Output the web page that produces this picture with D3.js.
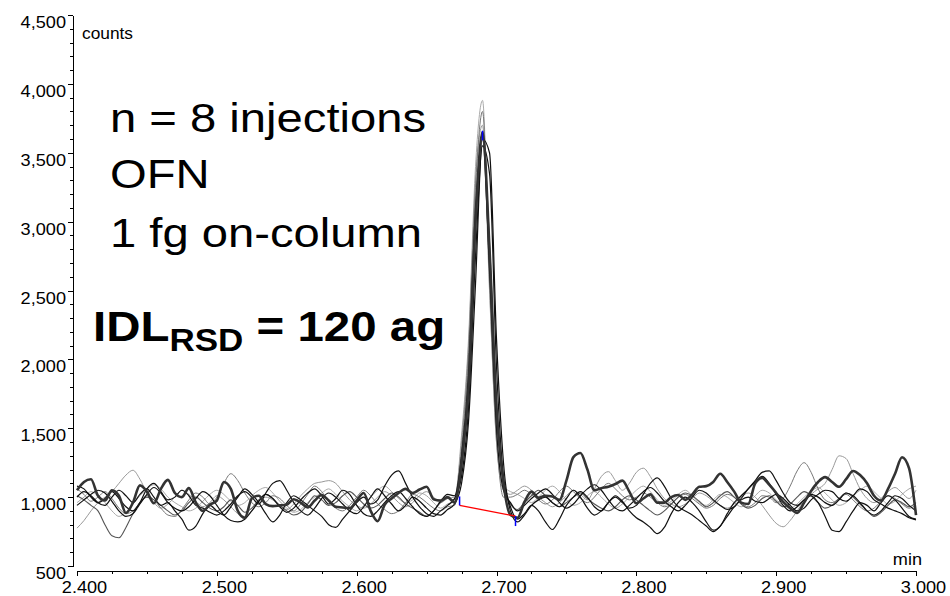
<!DOCTYPE html>
<html>
<head>
<meta charset="utf-8">
<script src="https://cdn.jsdelivr.net/npm/d3@7"></script>
<style>
  body { margin: 0; background: #fff; }
  svg { display: block; font-family: Arial, "Liberation Sans", sans-serif; }
  .axis path, .axis line { stroke: #000; stroke-width: 1; shape-rendering: crispEdges; }
  .trace { fill: none; stroke-linejoin: round; }
</style>
</head>
<body>
<div id="chart"></div>
<script>
// sampling grid of the chromatogram, minutes
var T_START = 2.400, T_STEP = 0.005, N_POINTS = 121;
var times = d3.range(N_POINTS).map(function(i) { return +(T_START + i * T_STEP).toFixed(3); });

// counts for the 8 injections
var inj1 = [1050,1110,1130,1010,975,1050,1010,885,960,1085,
  1040,955,1060,1125,1030,1000,1065,960,900,945,
  975,1110,1060,900,850,990,1010,950,935,940,
  945,985,960,925,975,1015,975,930,925,920,
  975,1030,900,825,945,990,1030,1060,1030,1055,
  1075,985,975,1000,960,1250,1800,3000,3650,2800,
  1650,1100,870,850,965,1040,995,1010,1005,980,
  1120,1290,1320,1200,1050,1065,1075,1095,1120,1040,
  955,990,1020,960,960,1000,1015,980,1020,1075,
  1080,1110,1170,1110,1040,960,950,1100,1140,1090,
  1030,965,920,885,960,1045,1110,1145,1110,1075,
  1130,1190,1160,1100,1010,975,1060,1170,1290,1210,
  870];
var inj2 = [1000,1040,1010,960,940,1000,1050,1010,960,1020,
  1060,1000,940,960,900,840,760,790,880,940,
  900,870,930,1000,1060,1020,960,880,820,870,
  960,1010,980,940,900,860,800,780,840,900,
  960,1000,950,980,1080,1160,1190,1100,1000,930,
  880,860,900,940,990,1150,1650,2750,3550,3350,
  1950,1150,930,840,880,940,900,820,765,840,
  940,1000,1040,1000,930,900,960,1010,970,900,
  850,820,780,735,780,880,960,1000,960,900,
  820,760,790,880,960,1010,1060,1120,1180,1190,
  1120,1030,960,940,980,1010,960,860,760,750,
  820,900,960,940,900,960,1010,980,920,860,
  840];
var inj3 = [1080,1060,1000,960,990,1040,990,930,900,960,
  1060,1100,1040,980,1000,1050,1010,940,920,890,
  870,900,950,1010,1040,1000,950,1030,1100,1120,
  1050,960,900,870,920,990,1030,1000,950,900,
  880,930,1000,1060,1010,950,900,940,1000,970,
  920,880,870,910,950,1100,1550,2550,3600,3500,
  2150,1250,900,820,870,940,980,1000,960,930,
  990,1050,1000,920,870,900,960,1000,960,920,
  940,1020,1100,1140,1080,990,930,900,870,830,
  790,750,790,860,930,980,1000,970,960,990,
  1020,990,940,900,920,980,1020,1050,1040,990,
  970,1010,1060,1040,980,950,920,900,880,850,
  835];
var inj4 = [940,980,1020,1050,1030,970,900,860,880,950,
  1020,1070,1030,960,920,900,930,990,1040,1010,
  940,870,830,820,840,900,970,1020,990,930,
  890,920,980,1030,1060,1010,950,990,1050,1020,
  940,880,860,900,960,1010,1040,990,930,880,
  860,900,970,1020,1010,1300,1900,3100,3600,2650,
  1500,1050,960,900,940,990,1030,1060,1020,960,
  920,950,1010,1060,1090,1050,980,920,900,940,
  990,1040,1070,1030,970,930,900,940,1000,1050,
  1030,980,940,910,930,990,1060,1110,1150,1100,
  1020,940,900,930,980,1020,1000,960,940,980,
  1030,1010,960,900,870,900,960,1010,990,940,
  900];
var inj5 = [1010,980,940,900,800,720,705,780,880,960,
  1000,980,940,900,870,900,960,1000,960,920,
  900,930,980,940,890,920,980,1020,990,940,
  900,870,890,950,1010,980,940,960,1010,1040,
  1000,950,920,940,990,1030,1000,950,920,890,
  860,900,960,990,980,1200,1800,2950,3650,2850,
  1700,1120,950,910,960,1010,1050,1010,960,930,
  960,1000,1030,990,950,920,900,930,980,1010,
  980,940,900,870,900,950,1000,1030,1010,970,
  930,960,1010,1040,1000,950,920,940,990,1010,
  970,930,950,1000,1040,1010,960,920,940,990,
  1030,1000,950,900,860,890,940,980,960,930,
  960];
var inj6 = [1060,1020,970,1000,1040,990,920,880,900,960,
  1010,980,920,870,860,910,980,1030,1000,950,
  1000,1100,1170,1120,1030,960,930,960,1010,990,
  940,900,950,1020,1080,1040,970,920,900,940,
  1000,1050,1010,950,910,880,900,960,1020,1000,
  960,920,900,930,940,1350,2050,3250,3800,2600,
  1450,1000,1000,1020,1050,1020,980,950,980,1040,
  1080,1040,990,960,1000,1060,1100,1060,1010,980,
  1000,1030,1000,960,930,950,1000,1020,990,950,
  920,940,990,1020,1000,960,930,960,1010,1000,
  960,990,1080,1190,1250,1180,1060,980,960,990,
  1020,980,930,900,920,970,1010,990,950,920,
  940];
var inj7 = [775,830,900,960,1000,1040,1100,1160,1195,1130,
  1030,960,920,950,1000,1050,1020,970,930,960,
  1010,980,930,880,860,900,960,1000,980,940,
  910,950,1010,1060,1100,1110,1120,1100,1040,980,
  940,920,950,1000,1040,1010,960,930,960,1010,
  1040,1000,960,990,1000,1400,2100,3300,3700,2500,
  1400,1050,1020,1050,1080,1050,1000,960,930,960,
  1010,1050,1020,980,1060,1150,1185,1120,1050,1100,
  1180,1210,1150,1060,990,950,930,950,990,1030,
  1010,970,940,920,950,1000,1030,1000,940,870,
  810,785,830,900,970,1020,1060,1100,1200,1300,
  1280,1170,1060,990,960,990,1040,1070,1030,990,
  1050];
var inj8 = [960,1000,1040,1010,960,900,860,890,950,1010,
  1060,1090,1060,1000,960,930,900,920,970,1020,
  1050,1020,970,940,960,1010,1050,1070,1030,970,
  920,890,910,960,1000,1030,1060,1020,970,930,
  900,940,1000,1050,1080,1040,990,960,980,1030,
  1010,960,920,950,970,1450,2150,3400,3880,2550,
  1400,1080,1040,1020,990,960,1000,1050,1080,1040,
  980,940,960,1010,1040,1000,950,920,950,1000,
  1050,1080,1040,980,940,970,1020,1050,1010,960,
  940,980,1020,1000,960,930,960,1010,1050,1030,
  980,940,920,950,1000,1040,1070,1030,980,940,
  960,1010,1050,1080,1040,990,950,970,1020,1060,
  1080];

// drawn back to front: light greys first, the heavy trace last
var traces = [inj8, inj7, inj6, inj5, inj4, inj3, inj2, inj1];
var traceColors = ["#aaaaaa", "#999999", "#777777", "#555555", "#111111", "#111111", "#111111", "#333333"];
var traceWidths = [1, 1, 1, 1.1, 1.2, 1.2, 1.2, 2.6];

// peak integration: baseline (red) and delimiters (blue)
var baseTimes = [2.6736, 2.7136];
var baseCounts = [940, 862];
var markTimes = [2.6736, 2.6900, 2.7136];
var markLow = [940, 3590, 790];
var markHigh = [1005, 3660, 862];

var xTicks = [2.4, 2.5, 2.6, 2.7, 2.8, 2.9, 3.0];
var yTicks = [500, 1000, 1500, 2000, 2500, 3000, 3500, 4000, 4500];

var notes = ["n = 8 injections", "OFN", "1 fg on-column"];

/**** DRAW ****/

var width = 950, height = 596;
var svg = d3.select("#chart").append("svg")
  .attr("width", width)
  .attr("height", height);

var x = d3.scaleLinear().domain([2.4, 3.0]).range([77, 916]);
var y = d3.scaleLinear().domain([500, 4500]).range([566, 15]);

// y axis, minor ticks then major ticks with labels
svg.append("g").attr("class", "axis")
  .attr("transform", "translate(73,0)")
  .call(d3.axisLeft(y).tickValues(d3.range(500, 4501, 100)).tickSize(3).tickSizeOuter(0).tickFormat(""));
var yAxis = svg.append("g").attr("class", "axis")
  .attr("transform", "translate(73,0)")
  .call(d3.axisLeft(y).tickValues(yTicks).tickSize(5).tickSizeOuter(0).tickFormat(d3.format(",")));
yAxis.selectAll("text")
  .attr("x", 0).attr("dy", null)
  .attr("transform", "translate(-7,12.5) scale(1.1,1)")
  .attr("text-anchor", "end")
  .style("font-size", "16.5px").style("font-family", "Arial, 'Liberation Sans', sans-serif")
  .attr("fill", "#000");

// x axis
svg.append("g").attr("class", "axis")
  .attr("transform", "translate(0,571)")
  .call(d3.axisBottom(x).tickValues(d3.range(2.4, 3.0001, 0.025)).tickSize(3).tickSizeOuter(0).tickFormat(""));
var xAxis = svg.append("g").attr("class", "axis")
  .attr("transform", "translate(0,571)")
  .call(d3.axisBottom(x).tickValues(xTicks).tickSize(5).tickSizeOuter(0).tickFormat(d3.format(".3f")));
xAxis.selectAll("text")
  .attr("y", 0).attr("dy", null)
  .attr("transform", "translate(7,22) scale(1.1,1)")
  .style("font-size", "16.5px").style("font-family", "Arial, 'Liberation Sans', sans-serif")
  .attr("fill", "#000");

// axis titles
svg.append("text")
  .attr("transform", "translate(82,39) scale(1.05,1)")
  .style("font-size", "16.5px")
  .text("counts");
svg.append("text")
  .attr("transform", "translate(922,565) scale(1.1,1)")
  .attr("text-anchor", "end")
  .style("font-size", "16.5px")
  .text("min");

// traces
var line = d3.line()
  .x(function(d, i) { return x(times[i]); })
  .y(function(d) { return y(d); })
  .curve(d3.curveMonotoneX);

svg.append("g").selectAll("path")
  .data(traces)
  .join("path")
  .attr("class", "trace")
  .attr("stroke", function(d, i) { return traceColors[i]; })
  .attr("stroke-width", function(d, i) { return traceWidths[i]; })
  .attr("d", line);

// integration baseline and delimiters
svg.append("line")
  .attr("x1", x(baseTimes[0])).attr("y1", y(baseCounts[0]))
  .attr("x2", x(baseTimes[1])).attr("y2", y(baseCounts[1]))
  .attr("stroke", "#ff0000").attr("stroke-width", 1.3);
svg.append("g").selectAll("line")
  .data(markTimes)
  .join("line")
  .attr("x1", function(d) { return x(d); })
  .attr("x2", function(d) { return x(d); })
  .attr("y1", function(d, i) { return y(markLow[i]); })
  .attr("y2", function(d, i) { return y(markHigh[i]); })
  .attr("stroke", "#0000ff").attr("stroke-width", 1.5);

// annotations
var noteBaselines = [132, 188, 246.5];
svg.append("g").selectAll("text")
  .data(notes)
  .join("text")
  .attr("transform", function(d, i) { return "translate(110," + noteBaselines[i] + ") scale(1.18,1)"; })
  .style("font-size", "40px")
  .text(function(d) { return d; });

var idl = svg.append("text")
  .attr("transform", "translate(93,341) scale(1.13,1)")
  .style("font-size", "42px")
  .style("font-weight", "bold");
idl.append("tspan").text("IDL");
idl.append("tspan").attr("dy", 10).style("font-size", "31px").text("RSD");
idl.append("tspan").attr("dy", -10).text(" = 120 ag");
</script>
</body>
</html>
